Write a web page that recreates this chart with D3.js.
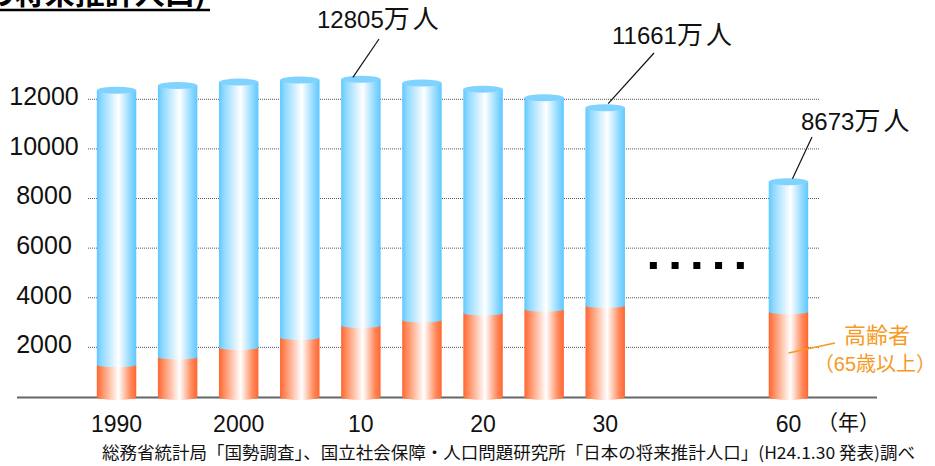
<!DOCTYPE html>
<html>
<head>
<meta charset="utf-8">
<script src="https://d3js.org/d3.v7.min.js"></script>
<style>
  body { margin: 0; background: #fff; }
  svg { display: block; }
</style>
</head>
<body>
<div id="chart"></div>
<script>
// Data (万人)
var years = ["1990", "1995", "2000", "2005", "2010", "2015", "2020", "2025", "2030", "2060"];
var yearLabels = ["1990", "", "2000", "", "10", "", "20", "", "30", "60"];
var totalPop = [12361, 12557, 12693, 12777, 12805, 12660, 12410, 12066, 11661, 8673];
var elderlyPop = [1300, 1610, 2000, 2400, 2880, 3100, 3390, 3540, 3690, 3440];
var slots = ["1990", "1995", "2000", "2005", "2010", "2015", "2020", "2025", "2030", "gap1", "gap2", "2060"];
var yTicks = [2000, 4000, 6000, 8000, 10000, 12000];

var width = 935, height = 466;
var jp = "'Liberation Sans', Arial, 'Noto Sans CJK JP', sans-serif";

var svg = d3.select("#chart").append("svg")
    .attr("width", width)
    .attr("height", height);

// Gradients for the cylinders
var defs = svg.append("defs");
function addGradient(id, edge, mid) {
    var g = defs.append("linearGradient").attr("id", id)
        .attr("x1", "0%").attr("x2", "100%").attr("y1", "0%").attr("y2", "0%");
    g.append("stop").attr("offset", "0%").attr("stop-color", edge);
    g.append("stop").attr("offset", "12%").attr("stop-color", mid);
    g.append("stop").attr("offset", "55%").attr("stop-color", "#ffffff");
    g.append("stop").attr("offset", "85%").attr("stop-color", mid);
    g.append("stop").attr("offset", "100%").attr("stop-color", edge);
}
addGradient("blueGrad", "#5ec8ff", "#8fd9ff");
addGradient("orangeGrad", "#ff6630", "#ff8a5c");

// Scales
var x = d3.scaleBand()
    .domain(slots)
    .range([86, 819])
    .paddingInner(0.354)
    .paddingOuter(0.177);

var y = d3.scaleLinear()
    .domain([0, 12000])
    .range([397, 99.3]);

var bw = x.bandwidth();

// Dotted gridlines
svg.append("g").selectAll("line")
    .data(yTicks)
    .enter()
    .append("line")
    .attr("x1", x.range()[0] + 2)
    .attr("x2", x.range()[1])
    .attr("y1", d => y(d))
    .attr("y2", d => y(d))
    .attr("stroke", "#555")
    .attr("stroke-width", 1)
    .attr("stroke-dasharray", "1,1");

// Y tick labels
svg.append("g").selectAll("text")
    .data(yTicks)
    .enter()
    .append("text")
    .attr("x", 44)
    .attr("y", d => y(d) - 3)
    .attr("dy", "0.35em")
    .attr("text-anchor", "middle")
    .attr("font-family", jp)
    .attr("font-size", "25px")
    .attr("fill", "#111")
    .text(d => d);

// Baseline
svg.append("line")
    .attr("x1", 17)
    .attr("x2", 877)
    .attr("y1", y(0) + 0.5)
    .attr("y2", y(0) + 0.5)
    .attr("stroke", "#666")
    .attr("stroke-width", 2);

// Cylinders
var bars = svg.append("g").selectAll("g")
    .data(years)
    .enter()
    .append("g");

// orange part (65+)
bars.append("ellipse")
    .attr("cx", d => x(d) + bw / 2)
    .attr("cy", y(0))
    .attr("rx", bw / 2)
    .attr("ry", 3)
    .attr("fill", "url(#orangeGrad)");

bars.append("rect")
    .attr("x", d => x(d))
    .attr("y", (d, i) => y(elderlyPop[i]))
    .attr("width", bw)
    .attr("height", (d, i) => y(0) - y(elderlyPop[i]))
    .attr("fill", "url(#orangeGrad)");

// blue part (rest)
bars.append("rect")
    .attr("x", d => x(d))
    .attr("y", (d, i) => y(totalPop[i]))
    .attr("width", bw)
    .attr("height", (d, i) => y(elderlyPop[i]) - y(totalPop[i]))
    .attr("fill", "url(#blueGrad)");

bars.append("ellipse")
    .attr("cx", d => x(d) + bw / 2)
    .attr("cy", (d, i) => y(elderlyPop[i]))
    .attr("rx", bw / 2)
    .attr("ry", 2.5)
    .attr("fill", "url(#blueGrad)");

// top cap
bars.append("ellipse")
    .attr("cx", d => x(d) + bw / 2)
    .attr("cy", (d, i) => y(totalPop[i]))
    .attr("rx", bw / 2)
    .attr("ry", 3.5)
    .attr("fill", "#80d3ff");

// X labels
svg.append("g").selectAll("text")
    .data(years)
    .enter()
    .append("text")
    .attr("x", d => x(d) + bw / 2)
    .attr("y", 431.5)
    .attr("text-anchor", "middle")
    .attr("font-family", jp)
    .attr("font-size", "23px")
    .attr("fill", "#111")
    .text((d, i) => yearLabels[i]);

svg.append("text")
    .attr("x", 817)
    .attr("y", 430)
    .attr("font-family", jp)
    .attr("font-size", "21px")
    .attr("fill", "#111")
    .text("（年）");

// "......" between 2030 and 2060
var gapMid = (x("gap1") + x("gap2") + bw) / 2;
svg.append("g").selectAll("rect")
    .data([-2, -1, 0, 1, 2])
    .enter()
    .append("rect")
    .attr("x", d => gapMid + d * 21.75 - 3.5)
    .attr("y", 262)
    .attr("width", 7)
    .attr("height", 7)
    .attr("fill", "#000");

// Callouts for the total population
var callouts = [
    { year: "2010", lx: 317, ly: 28, x1: 379, y1: 39, dx: -8, dy: -2 },
    { year: "2030", lx: 612, ly: 44, x1: 654, y1: 53, dx: 3, dy: -4 },
    { year: "2060", lx: 801, ly: 130, x1: 812, y1: 137, dx: 4, dy: -3 }
];

callouts.forEach(function(c) {
    var i = years.indexOf(c.year);
    svg.append("line")
        .attr("x1", c.x1)
        .attr("y1", c.y1)
        .attr("x2", x(c.year) + bw / 2 + c.dx)
        .attr("y2", y(totalPop[i]) + c.dy)
        .attr("stroke", "#111")
        .attr("stroke-width", 1.2);
    var t = svg.append("text")
        .attr("x", c.lx)
        .attr("y", c.ly)
        .attr("font-family", jp)
        .attr("font-size", "24px")
        .attr("fill", "#111");
    t.append("tspan").text(totalPop[i]);
    t.append("tspan")
        .attr("font-size", "26px")
        .attr("letter-spacing", "3px")
        .text("万人");
});

// Elderly label
var orange = "#f59a23";
svg.append("line")
    .attr("x1", 835)
    .attr("y1", 343)
    .attr("x2", x("2060") + bw / 2)
    .attr("y2", 353)
    .attr("stroke", orange)
    .attr("stroke-width", 1.5);

svg.append("text")
    .attr("x", 877)
    .attr("y", 343)
    .attr("text-anchor", "middle")
    .attr("font-family", jp)
    .attr("font-size", "22px")
    .attr("fill", orange)
    .text("高齢者");

svg.append("text")
    .attr("x", 875)
    .attr("y", 371)
    .attr("text-anchor", "middle")
    .attr("font-family", jp)
    .attr("font-size", "20px")
    .attr("fill", orange)
    .text("（65歳以上）");

// Title (cut off at top in the reference)
svg.append("text")
    .attr("x", 206)
    .attr("y", 4)
    .attr("text-anchor", "end")
    .attr("font-family", "'Noto Sans CJK JP', sans-serif")
    .attr("font-weight", "bold")
    .attr("font-size", "30px")
    .attr("fill", "#000")
    .text("２．日本の将来推計人口)");

svg.append("line")
    .attr("x1", 0)
    .attr("x2", 210)
    .attr("y1", 10)
    .attr("y2", 10)
    .attr("stroke", "#000")
    .attr("stroke-width", 2.5);

// Source note
svg.append("text")
    .attr("x", 102)
    .attr("y", 459)
    .attr("font-family", "'Noto Sans CJK JP', sans-serif")
    .attr("font-size", "17px")
    .attr("fill", "#111")
    .attr("textLength", 813)
    .attr("lengthAdjust", "spacingAndGlyphs")
    .text("総務省統計局「国勢調査」、国立社会保障・人口問題研究所「日本の将来推計人口」(H24.1.30 発表)調べ");
</script>
</body>
</html>
